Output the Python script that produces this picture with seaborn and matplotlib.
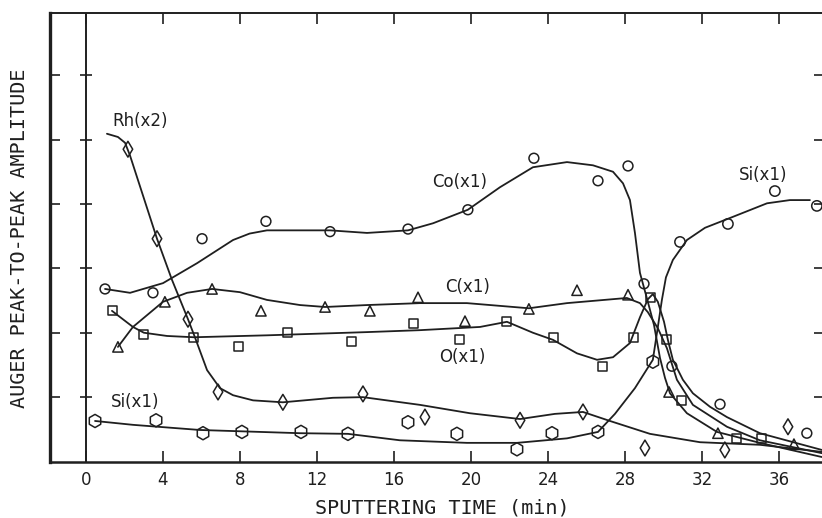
import matplotlib
matplotlib.use("Agg")
import matplotlib.pyplot as plt
import seaborn as sns

# ---- curves as drawn in the figure (sputtering time in min, amplitude in tick units)
rh_t = [1.09, 1.66, 2.03, 2.29, 3.69, 4.47, 5.30, 5.66, 6.29, 6.96, 7.64, 8.68, 10.23, 12.83,
        14.39, 17.35, 19.95, 22.55, 24.36, 25.82, 27.22, 29.30, 31.90, 35.01, 38.23]
rh_y = [5.09, 5.04, 4.95, 4.75, 3.46, 2.82, 2.21, 1.93, 1.42, 1.14, 1.03, 0.95, 0.92, 0.99,
        1.00, 0.88, 0.75, 0.66, 0.74, 0.77, 0.63, 0.43, 0.30, 0.26, 0.15]

co_t = [0.99, 2.29, 4.00, 5.77, 7.64, 8.50, 9.40, 12.68, 14.60, 16.73, 18.03, 19.84, 21.51,
        23.22, 24.99, 26.34, 27.38, 27.90, 28.26, 28.52, 28.78, 28.99, 29.19, 29.51, 29.82,
        30.08, 30.34, 31.22, 32.78, 35.01, 38.23]
co_y = [2.68, 2.62, 2.77, 3.08, 3.44, 3.54, 3.59, 3.59, 3.55, 3.59, 3.70, 3.91, 4.26,
        4.57, 4.65, 4.60, 4.50, 4.32, 4.06, 3.55, 2.93, 2.70, 2.48, 2.12, 1.61,
        1.30, 1.06, 0.75, 0.46, 0.29, 0.07]

c_t = [1.66, 2.44, 4.00, 5.25, 6.55, 8.00, 9.40, 11.12, 12.42, 14.60, 17.35, 19.79, 23.01,
       24.99, 28.10, 28.78, 29.19, 29.71, 30.18, 30.70, 31.53, 33.30, 35.01, 38.23]
c_y = [1.78, 2.09, 2.48, 2.62, 2.68, 2.63, 2.51, 2.43, 2.40, 2.43, 2.46, 2.46, 2.38,
       2.46, 2.54, 2.46, 2.32, 2.07, 1.76, 1.27, 0.88, 0.54, 0.33, 0.13]

o_t = [1.35, 2.44, 3.01, 4.21, 5.61, 9.40, 14.60, 17.35, 20.47, 21.87, 23.22, 24.26, 25.51,
       26.55, 27.38, 28.26, 28.78, 29.19, 29.45, 29.71, 30.03, 30.23, 30.49, 31.01, 31.53,
       32.42, 33.30, 35.01, 38.23]
o_y = [2.34, 2.09, 2.00, 1.95, 1.93, 1.96, 2.01, 2.04, 2.09, 2.17, 2.00, 1.89, 1.68,
       1.58, 1.62, 1.84, 2.24, 2.52, 2.60, 2.48, 2.17, 1.89, 1.58, 1.27, 1.06,
       0.85, 0.69, 0.44, 0.18]

si_t = [0.47, 2.44, 5.92, 11.12, 13.61, 16.31, 19.79, 22.39, 24.99, 26.60, 27.48, 28.52,
        29.45, 29.71, 29.92, 30.13, 30.49, 31.22, 32.16, 33.61, 35.38, 36.57, 37.61]
si_y = [0.63, 0.57, 0.49, 0.44, 0.43, 0.33, 0.29, 0.29, 0.36, 0.46, 0.74, 1.14,
        1.58, 2.09, 2.51, 2.86, 3.13, 3.44, 3.63, 3.80, 4.01, 4.06, 4.06]

# ---- measured points
rh_pt = [2.18, 3.69, 5.30, 6.86, 10.23, 14.39, 17.61, 22.55, 25.82, 29.04, 33.19, 36.47]
rh_pv = [4.85, 3.46, 2.21, 1.08, 0.92, 1.05, 0.69, 0.64, 0.77, 0.21, 0.18, 0.54]

co_pt = [0.99, 3.48, 6.03, 9.35, 12.68, 16.73, 19.84, 23.27, 26.60, 28.16, 28.99, 30.44, 32.94, 37.45]
co_pv = [2.68, 2.62, 3.46, 3.73, 3.57, 3.61, 3.91, 4.71, 4.36, 4.59, 2.76, 1.48, 0.89, 0.44]

c_pt = [1.66, 4.10, 6.55, 9.09, 12.42, 14.75, 17.25, 19.69, 23.01, 25.51, 28.16, 30.29, 32.83, 36.78]
c_pv = [1.78, 2.48, 2.68, 2.34, 2.40, 2.34, 2.55, 2.18, 2.37, 2.66, 2.59, 1.08, 0.44, 0.27]

o_pt = [1.40, 3.01, 5.61, 7.90, 10.49, 13.82, 16.99, 19.43, 21.87, 24.31, 26.81, 28.42,
        29.35, 30.18, 30.96, 33.82, 35.12]
o_pv = [2.34, 1.98, 1.92, 1.78, 2.00, 1.86, 2.14, 1.89, 2.17, 1.92, 1.47, 1.92,
        2.55, 1.90, 0.95, 0.36, 0.35]

si_lo_t = [0.47, 3.64, 6.08, 8.10, 11.17, 13.61, 16.73, 19.27, 22.39, 24.21, 26.60, 29.45]
si_lo_v = [0.63, 0.64, 0.44, 0.46, 0.46, 0.43, 0.61, 0.43, 0.19, 0.44, 0.46, 1.55]
si_hi_t = [30.86, 33.35, 35.79, 37.97]
si_hi_v = [3.41, 3.69, 4.20, 3.97]

# ---- curve labels
labels = ["Rh(x2)", "Co(x1)", "Si(x1)", "C(x1)", "O(x1)", "Si(x1)"]
label_t = [2.81, 19.43, 35.17, 19.84, 19.53, 2.55]
label_v = [5.29, 4.34, 4.45, 2.71, 1.62, 0.92]

xticks = list(range(0, 37, 4))
yticks = [1, 2, 3, 4, 5, 6]

sns.set_theme(style="white")
plt.rcParams['font.family'] = ['DejaVu Sans']
ink = "#1f1f1f"
mono = "DejaVu Sans Mono"

fig = plt.figure(figsize=(8.22, 5.18), dpi=100)
ax = fig.add_axes([0.0608, 0.109, 0.9416, 0.8665])

for t, v in [(rh_t, rh_y), (co_t, co_y), (c_t, c_y), (o_t, o_y), (si_t, si_y)]:
    sns.lineplot(x=t, y=v, sort=False, estimator=None, color=ink, lw=1.3, ax=ax)

pts = [(rh_pt, rh_pv, "d", 65), (co_pt, co_pv, "o", 50), (c_pt, c_pv, "^", 55),
       (o_pt, o_pv, "s", 42), (si_lo_t, si_lo_v, "h", 90), (si_hi_t, si_hi_v, "o", 55)]
for t, v, m, s in pts:
    sns.scatterplot(x=t, y=v, marker=m, s=s, facecolor="none", edgecolor=ink,
                    linewidth=1.1, zorder=3, ax=ax)

for txt, t, v in zip(labels, label_t, label_v):
    ax.text(t, v, txt, ha="center", va="center", fontsize=12, color=ink)

ax.axvline(0, color=ink, lw=1.4)
ax.hlines(yticks, -0.32, 0.32, color=ink, lw=1.2)

ax.set_xlim(-1.87, 38.34)
ax.set_ylim(0, 6.97)
ax.set_xticks(xticks)
ax.set_xticklabels([str(x) for x in xticks])
ax.set_yticks(yticks)
ax.set_yticklabels([])
ax.tick_params(axis="x", direction="in", length=8, width=1.2, top=True, bottom=True,
               labelsize=12, pad=7, colors=ink)
ax.tick_params(axis="y", direction="in", length=7, width=1.2, left=True, right=True,
               labelleft=False, colors=ink)
ax.spines["left"].set_linewidth(2.4)
ax.spines["bottom"].set_linewidth(1.8)
ax.spines["top"].set_linewidth(1.4)
for s in ["left", "bottom", "top"]:
    ax.spines[s].set_color(ink)
ax.spines["right"].set_visible(False)

fig.text(442 / 822, 1 - 508 / 518, "SPUTTERING TIME (min)", ha="center", va="center",
         fontsize=14.5, color=ink, family=mono)
fig.text(20 / 822, 1 - 238 / 518, "AUGER PEAK-TO-PEAK AMPLITUDE", ha="center", va="center",
         rotation=90, fontsize=14.5, color=ink, family=mono)

fig.savefig("out.png", dpi=100, facecolor="white")
